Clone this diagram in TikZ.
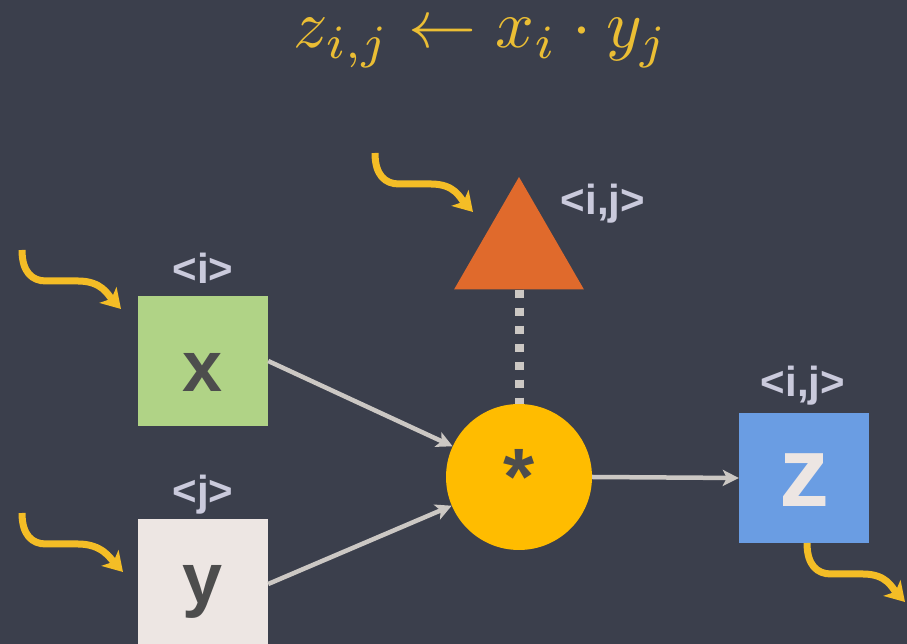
\documentclass[tikz,border=0pt]{standalone}
\usepackage{fontspec}
\setmainfont{Liberation Sans}
\usetikzlibrary{arrows.meta,shapes.geometric}
\definecolor{bg}{RGB}{59,63,76}
\definecolor{yel}{RGB}{244,189,38}
\definecolor{titlecol}{RGB}{235,190,52}
\definecolor{lblcol}{RGB}{202,202,220}
\definecolor{grayline}{RGB}{204,200,196}
\definecolor{darktxt}{RGB}{77,77,77}
\definecolor{xgreen}{RGB}{176,211,134}
\definecolor{ywhite}{RGB}{237,230,227}
\definecolor{zblue}{RGB}{106,157,227}
\definecolor{triorange}{RGB}{224,106,44}
\definecolor{circyel}{RGB}{255,188,0}
\tikzset{
  tensorbox/.style={rectangle, minimum size=130pt, inner sep=0pt, draw=none},
  idxlabel/.style={font=\fontsize{42}{50}\selectfont\bfseries, text=lblcol, anchor=base, inner sep=0pt},
  grayarrow/.style={draw=grayline, line width=4.5pt, -{Stealth[length=16pt,width=16pt,inset=4pt]}},
  dotline/.style={draw=grayline, line width=9pt, dash pattern=on 8pt off 10pt},
  squig/.style={draw=yel, line width=7pt, -{Stealth[length=19pt,width=23pt,inset=5pt]}},
}
\begin{document}
\begin{tikzpicture}[x=1pt,y=1pt]
\fill[bg] (0,0) rectangle (907,644);
\clip (0,0) rectangle (907,644);
\useasboundingbox (0,0) rectangle (907,644);

% title
\node[scale=6.8, text=titlecol, anchor=base, inner sep=0pt] (title) at (481,596) {$z_{i,j} \leftarrow x_i \cdot y_j$};

% tensors
\node[tensorbox, fill=xgreen, text=darktxt, font=\fontsize{72}{80}\selectfont\bfseries] (xbox) at (203,283) {\raisebox{-31pt}[0pt][0pt]{x}};
\node[tensorbox, fill=ywhite, text=darktxt, font=\fontsize{72}{80}\selectfont\bfseries] (ybox) at (203,60) {\raisebox{-20pt}[0pt][0pt]{y}};
\node[tensorbox, fill=zblue, text=ywhite, font=\fontsize{100}{110}\selectfont\bfseries] (zbox) at (804,166) {\raisebox{-29pt}[0pt][0pt]{z}};
\node[regular polygon, regular polygon sides=3, minimum size=150pt, inner sep=0pt, fill=triorange] (tri) at (519,392) {};
\node[circle, minimum size=146pt, inner sep=0pt, fill=circyel, text=darktxt, font=\fontsize{80}{90}\selectfont\bfseries] (circ) at (519,167) {*};

% index labels
\node[idxlabel] (lx) at (203,360) {<i>};
\node[idxlabel] (ly) at (203,138) {<j>};
\node[idxlabel] (ltri) at (603,429) {<i,j>};
\node[idxlabel] (lz) at (803,247) {<i,j>};

% connectors
\draw[dotline] (tri.south) -- (circ.north);
\draw[grayarrow] (xbox.east) -- (circ);
\draw[grayarrow] (ybox.east) -- (circ);
\draw[grayarrow] (circ.east) -- (zbox.west);

% squiggly arrows
\coordinate (s1) at (22,394);  \coordinate (t1) at (121,335);
\coordinate (s2) at (375,491); \coordinate (t2) at (473,432);
\coordinate (s3) at (22,131);  \coordinate (t3) at (123,72);
\coordinate (s4) at (807,101); \coordinate (t4) at (905,42);
\foreach \s/\t in {s1/t1,s2/t2,s3/t3,s4/t4}{
  \draw[squig] (\s) .. controls +(0,-22) and +(-14,0) .. ++(24,-31) -- ++(32,0) .. controls +(24,0) and +(-13,14) .. (\t);
}
\end{tikzpicture}
\end{document}
